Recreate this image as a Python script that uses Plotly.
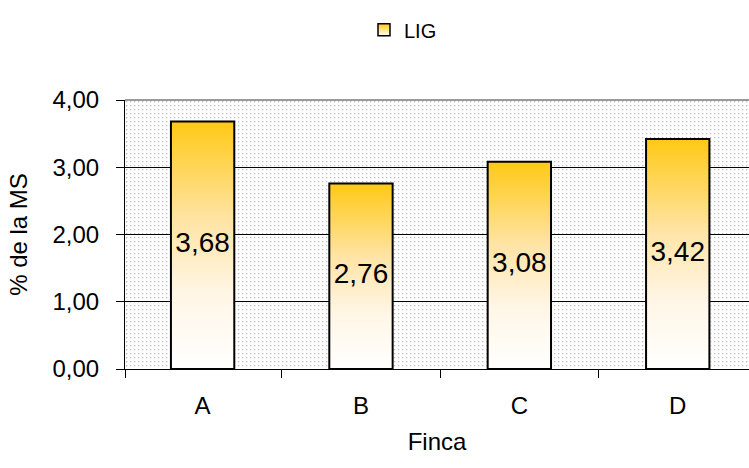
import plotly.graph_objects as go
from urllib.parse import quote

# Lignin content per farm (% of dry matter)
fincas = ["A", "B", "C", "D"]
lig = [3.68, 2.76, 3.08, 3.42]
y_ticks = [0, 1, 2, 3, 4]
y_tick_text = ["0,00", "1,00", "2,00", "3,00", "4,00"]

FONT = "Liberation Sans, Arial, sans-serif"
BAR_W = 0.4
GOLD_SCALE = [[0, "#FFFFFF"], [0.3, "#FFF6E6"], [0.6, "#FFE4A6"], [1, "#FFC915"]]

W, H = 749, 468
M_L, M_T, M_B, M_R = 125, 100, 99, 0
PW, PH = W - M_L - M_R, H - M_T - M_B

fig = go.Figure()

# Gradient-filled bars drawn as closed outlines
for i, (name, v) in enumerate(zip(fincas, lig)):
    x0, x1 = i - BAR_W / 2, i + BAR_W / 2
    fig.add_trace(go.Scatter(
        x=[x0, x1, x1, x0, x0], y=[0, 0, v, v, 0],
        mode="lines", fill="toself",
        fillgradient=dict(type="vertical", colorscale=GOLD_SCALE),
        line=dict(color="black", width=2),
        showlegend=False, hoverinfo="skip",
    ))

# Value labels in the middle of each bar
fig.add_trace(go.Scatter(
    x=list(range(len(fincas))), y=[v / 2 for v in lig],
    mode="text", text=[f"{v:.2f}".replace(".", ",") for v in lig],
    textfont=dict(family=FONT, size=28, color="black"),
    showlegend=False, hovertemplate="%{text}<extra></extra>",
))

# Legend entry
fig.add_trace(go.Scatter(
    x=[None], y=[None], mode="markers", name="LIG",
    marker=dict(symbol="square", size=12, color="#FFC915",
                gradient=dict(type="vertical", color="#FFFFFF"),
                line=dict(color="black", width=1.5)),
))

# Dotted plot-area background
dots = (
    f"<svg xmlns='http://www.w3.org/2000/svg' width='{PW}' height='{PH}'>"
    "<defs><pattern id='p' width='4' height='4' patternUnits='userSpaceOnUse'>"
    "<rect width='4' height='4' fill='#ffffff'/>"
    "<rect x='1' y='1' width='1.3' height='1.3' fill='#bdbdbd'/>"
    "</pattern></defs>"
    "<rect width='100%' height='100%' fill='url(#p)'/></svg>"
)
fig.add_layout_image(
    source="data:image/svg+xml;charset=utf-8," + quote(dots),
    xref="paper", yref="paper", x=0, y=1, sizex=1, sizey=1,
    xanchor="left", yanchor="top", sizing="stretch", layer="below",
)

# Grey frame line along the top of the plot area
fig.add_shape(type="line", xref="paper", yref="paper", x0=0, x1=1, y0=1, y1=1,
              line=dict(color="#9a9a9a", width=2), layer="above")

fig.update_layout(
    width=W, height=H,
    margin=dict(l=M_L, r=M_R, t=M_T, b=M_B),
    paper_bgcolor="white", plot_bgcolor="rgba(0,0,0,0)",
    font=dict(family=FONT, size=24, color="black"),
    legend=dict(orientation="h", x=0.383, xanchor="left", y=0.978, yanchor="top",
                yref="container", font=dict(size=20), bgcolor="rgba(0,0,0,0)",
                itemwidth=30),
    xaxis=dict(
        range=[-0.49, 3.45], tickvals=list(range(len(fincas))), ticktext=fincas,
        ticks="", showgrid=False, zeroline=False,
        showline=True, linecolor="black", linewidth=1,
        minor=dict(tickvals=[-0.49, 0.5, 1.5, 2.5], ticks="outside", ticklen=8,
                   tickcolor="black", showgrid=False),
        ticklabelstandoff=15,
        title=dict(text="Finca", standoff=15, font=dict(size=24)),
        tickfont=dict(size=24),
    ),
    yaxis=dict(
        range=[0, 4], tickvals=y_ticks, ticktext=y_tick_text,
        ticks="outside", ticklen=8, tickcolor="black",
        showgrid=True, gridcolor="black", gridwidth=1, zeroline=False,
        showline=True, linecolor="black", linewidth=1,
        ticklabelstandoff=12,
        title=dict(text="% de la MS", standoff=18, font=dict(size=24)),
        tickfont=dict(size=24),
    ),
)

fig.write_html("out.html")
